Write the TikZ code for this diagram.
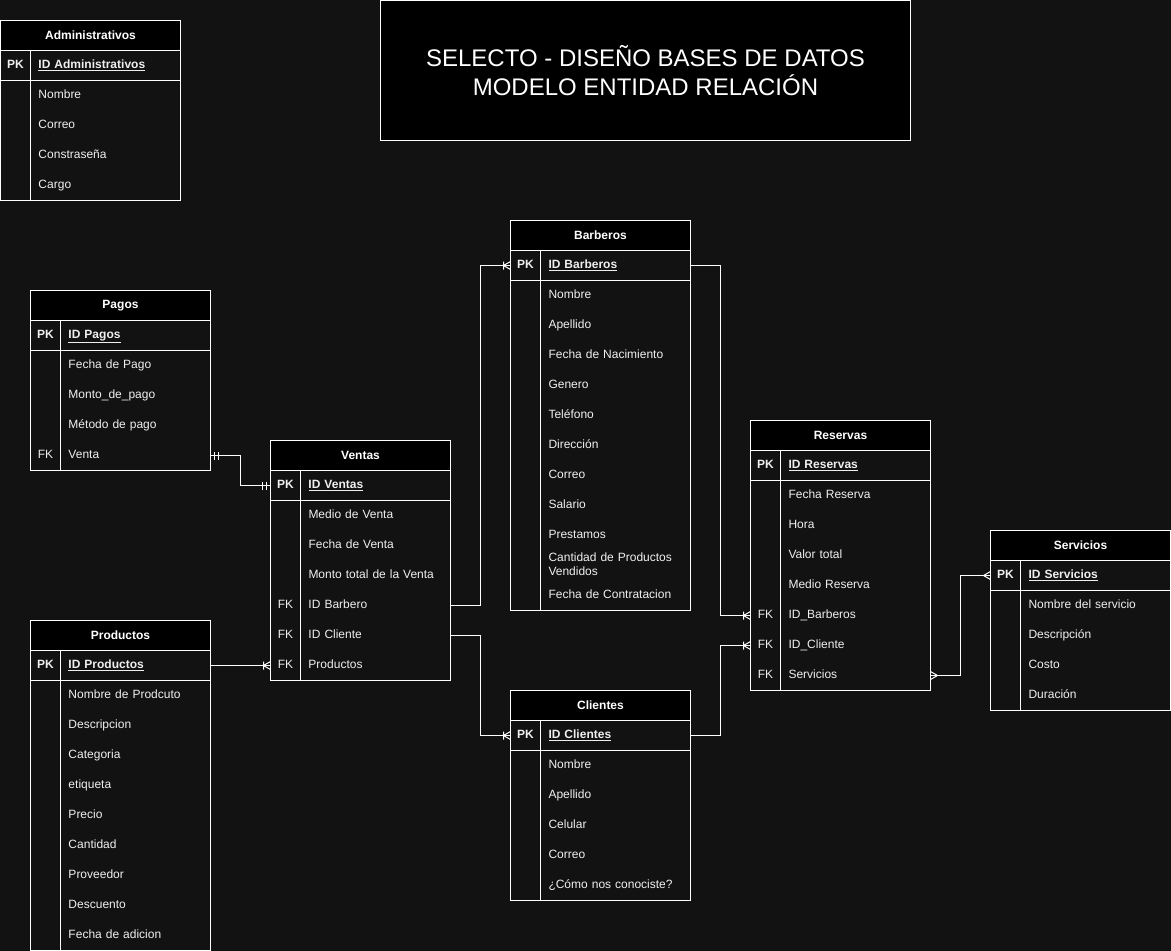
\documentclass[tikz,border=0pt]{standalone}
\usepackage{fontspec}
\setmainfont{Liberation Sans}
\usetikzlibrary{calc}

\definecolor{fondo}{HTML}{121212}
\definecolor{letra}{HTML}{F0F0F0}

\tikzset{
  erline/.style={draw=white, line width=1pt},
  erlink/.style={draw=white, line width=1pt},
  erhead/.style={draw=white, line width=1pt, fill=black, text=white, minimum width=180pt, minimum height=30pt, inner sep=0pt, outer sep=0pt, font=\fontsize{12}{14}\selectfont\bfseries},
  errow/.style={minimum width=180pt, minimum height=30pt, text width=180pt, align=left, inner sep=0pt, outer sep=0pt, text=letra, font=\fontsize{12}{14}\selectfont},
  titlebox/.style={draw=white, line width=1pt, fill=black, text=white, minimum width=530pt, minimum height=140pt, outer sep=0pt, align=center, font=\fontsize{24}{29}\selectfont},
  tipone/.pic={\draw[erlink] (-4,-4) -- (-4,4) (-8,-4) -- (-8,4);},
  tipmany/.pic={\draw[erlink] (0,-4) -- (-7,0) -- (0,4);},
  tiponemany/.pic={\draw[erlink] (0,-4) -- (-7,0) -- (0,4) (-7,-4) -- (-7,4);}
}

% name, x, y, number of rows, title, key/field list
\newcommand{\ertable}[6]{%
  \node[erhead, anchor=north west] (#1) at (#2,#3) {#5};
  \foreach [count=\i] \fk/\fname in {#6} {
    \node[errow, anchor=north west] (#1-\i) at ($(#1.south west)+(0,{30*(\i-1)})$)
      {\ifnum\i=1 \bfseries\fi\parbox[c]{30pt}{\centering\strut\fk}\hspace{8pt}\parbox[c]{134pt}{\raggedright\strut\ifnum\i=1 \underline{\fname}\else\fname\fi\strut}};
  }
  \draw[erline] (#1.south west) rectangle (#1-#4.south east);
  \draw[erline] (#1-1.south west) -- (#1-1.south east);
  \draw[erline] ([xshift=30pt]#1.south west) -- ([xshift=30pt]#1-#4.south west);
}

\begin{document}
\begin{tikzpicture}[x=1pt,y=-1pt]
  \fill[fondo] (-0.5,-0.5) rectangle (1170.5,950.5);
  \useasboundingbox (-0.5,-0.5) rectangle (1170.5,950.5);

  \node[titlebox, anchor=north west] (titulo) at (380,0) {SELECTO - DISEÑO BASES DE DATOS\\MODELO ENTIDAD RELACIÓN};

  \ertable{administrativos}{0}{20}{5}{Administrativos}{PK/ID Administrativos, /Nombre, /Correo, /Constraseña, /Cargo}
  \ertable{pagos}{30}{290}{5}{Pagos}{PK/ID Pagos, /Fecha de Pago, /Monto\_de\_pago, /Método de pago, FK/Venta}
  \ertable{ventas}{270}{440}{7}{Ventas}{PK/ID Ventas, /Medio de Venta, /Fecha de Venta, /Monto total de la Venta, FK/ID Barbero, FK/ID Cliente, FK/Productos}
  \ertable{productos}{30}{620}{10}{Productos}{PK/ID Productos, /Nombre de Prodcuto, /Descripcion, /Categoria, /etiqueta, /Precio, /Cantidad, /Proveedor, /Descuento, /Fecha de adicion}
  \ertable{barberos}{510}{220}{12}{Barberos}{PK/ID Barberos, /Nombre, /Apellido, /Fecha de Nacimiento, /Genero, /Teléfono, /Dirección, /Correo, /Salario, /Prestamos, /Cantidad de Productos Vendidos, /Fecha de Contratacion}
  \ertable{clientes}{510}{690}{6}{Clientes}{PK/ID Clientes, /Nombre, /Apellido, /Celular, /Correo, /¿Cómo nos conociste?}
  \ertable{reservas}{750}{420}{8}{Reservas}{PK/ID Reservas, /Fecha Reserva, /Hora, /Valor total, /Medio Reserva, FK/ID\_Barberos, FK/ID\_Cliente, FK/Servicios}
  \ertable{servicios}{990}{530}{5}{Servicios}{PK/ID Servicios, /Nombre del servicio, /Descripción, /Costo, /Duración}

  % relaciones
  \draw[erlink] (pagos-5.east) -- ++(30,0) |- (ventas-1.west);
  \pic[rotate=180] at (pagos-5.east) {tipone};
  \pic at (ventas-1.west) {tipone};
  \draw[erlink] (productos-1.east) -- (ventas-7.west);
  \pic at (ventas-7.west) {tiponemany};
  \draw[erlink] (ventas-5.east) -- ++(30,0) |- (barberos-1.west);
  \pic at (barberos-1.west) {tiponemany};
  \draw[erlink] (ventas-6.east) -- ++(30,0) |- (clientes-1.west);
  \pic at (clientes-1.west) {tiponemany};
  \draw[erlink] (barberos-1.east) -- ++(30,0) |- (reservas-6.west);
  \pic at (reservas-6.west) {tiponemany};
  \draw[erlink] (clientes-1.east) -- ++(30,0) |- (reservas-7.west);
  \pic at (reservas-7.west) {tiponemany};
  \draw[erlink] (reservas-8.east) -- ++(30,0) |- (servicios-1.west);
  \pic[rotate=180] at (reservas-8.east) {tipmany};
  \pic at (servicios-1.west) {tipmany};
\end{tikzpicture}
\end{document}
